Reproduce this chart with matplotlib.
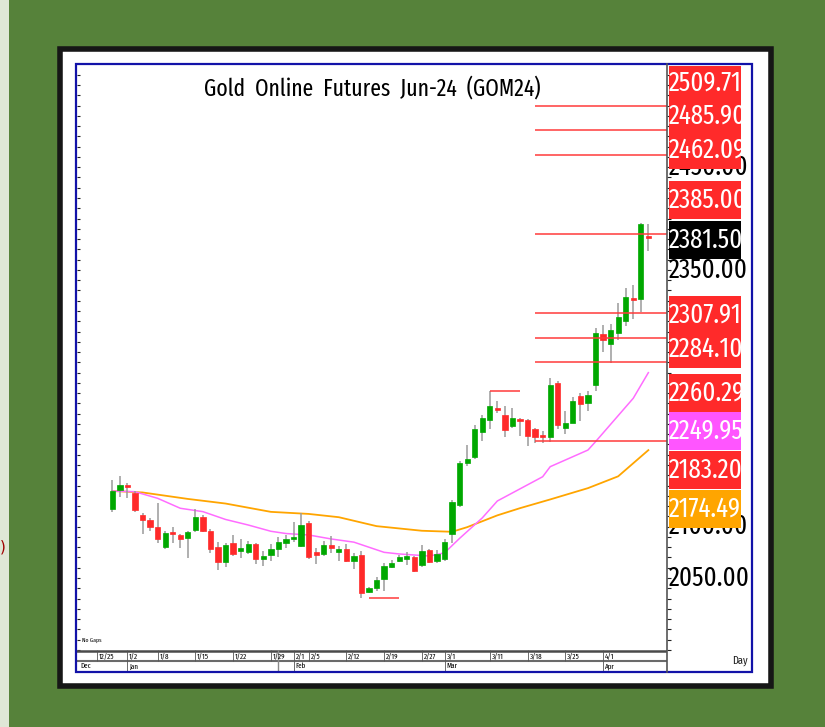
import matplotlib
matplotlib.use("Agg")
import matplotlib.pyplot as plt
import matplotlib.font_manager as fm
from matplotlib.font_manager import FontProperties
from matplotlib.textpath import TextPath
from matplotlib.patches import Rectangle
from matplotlib.lines import Line2D
from matplotlib.ticker import MultipleLocator

# daily candles, Dec 28 .. Apr 9 (index = trading day slot)
opens = [2116.9, 2135.7, 2140.6, 2133.1, 2111.3, 2106.5, 2099.4, 2079.9, 2094.5, 2092.2,
         2088.7, 2096.7, 2109.1, 2096.0, 2079.9, 2065.9, 2083.8, 2076.6, 2075.6, 2083.1,
         2068.5, 2072.7, 2077.9, 2083.8, 2087.7, 2081.5, 2103.2, 2075.6, 2073.4, 2082.1,
         2075.6, 2078.2, 2066.8, 2072.4, 2036.7, 2040.0, 2049.3, 2060.4, 2066.8, 2068.2,
         2070.7, 2062.7, 2077.3, 2066.6, 2068.2, 2092.8, 2121.1, 2161.7, 2167.5, 2191.9,
         2203.8, 2215.8, 2208.7, 2198.0, 2204.8, 2203.8, 2195.1, 2189.2, 2187.0, 2240.2,
         2196.3, 2201.2, 2227.2, 2220.1, 2237.9, 2287.3, 2277.8, 2288.9, 2300.5, 2322.4,
         2321.4, 2382.3]
highs = [2145.4, 2149.6, 2142.8, 2134.7, 2113.0, 2108.1, 2122.7, 2096.0, 2100.0, 2092.8,
         2096.0, 2116.9, 2111.3, 2097.7, 2085.3, 2083.8, 2091.9, 2088.0, 2086.0, 2083.8,
         2076.3, 2083.1, 2089.6, 2091.9, 2104.2, 2113.0, 2105.5, 2078.9, 2086.0, 2090.9,
         2081.2, 2083.1, 2074.1, 2076.6, 2041.5, 2051.3, 2064.3, 2067.5, 2072.4, 2075.6,
         2071.4, 2082.1, 2078.2, 2077.3, 2088.0, 2125.9, 2164.2, 2179.5, 2199.0, 2208.7,
         2232.4, 2222.6, 2217.8, 2215.2, 2205.5, 2204.8, 2195.8, 2193.4, 2244.5, 2241.8,
         2212.6, 2226.0, 2229.8, 2232.4, 2293.1, 2296.3, 2297.3, 2318.1, 2332.1, 2335.3,
         2395.4, 2394.7]
lows = [2114.0, 2129.2, 2127.6, 2114.6, 2092.8, 2095.8, 2083.8, 2078.0, 2083.8, 2078.9,
        2069.2, 2095.1, 2094.5, 2074.1, 2057.8, 2060.4, 2071.4, 2069.8, 2073.4, 2063.6,
        2061.7, 2066.8, 2070.7, 2078.9, 2085.3, 2079.9, 2068.2, 2063.6, 2071.4, 2074.6,
        2066.6, 2065.9, 2058.8, 2030.5, 2035.1, 2037.6, 2037.3, 2059.4, 2065.9, 2062.7,
        2056.1, 2060.4, 2064.9, 2064.9, 2066.6, 2083.8, 2118.8, 2159.1, 2165.6, 2183.7,
        2194.8, 2210.4, 2187.0, 2195.8, 2188.3, 2178.5, 2181.7, 2181.7, 2182.7, 2194.8,
        2190.2, 2200.6, 2203.2, 2212.9, 2232.4, 2270.4, 2259.1, 2281.7, 2295.4, 2301.9,
        2309.3, 2368.7]
closes = [2134.7, 2140.6, 2138.9, 2116.2, 2106.5, 2100.0, 2088.3, 2094.1, 2092.8, 2088.0,
          2094.5, 2109.1, 2095.8, 2078.0, 2065.9, 2081.8, 2073.4, 2079.2, 2083.1, 2068.5,
          2071.1, 2077.9, 2085.3, 2088.3, 2090.2, 2101.3, 2070.1, 2072.4, 2082.1, 2079.5,
          2078.2, 2066.6, 2071.4, 2035.1, 2040.0, 2048.0, 2061.7, 2064.9, 2070.1, 2071.4,
          2056.8, 2076.3, 2065.9, 2073.1, 2085.3, 2123.7, 2161.7, 2165.6, 2194.8, 2206.1,
          2217.8, 2213.6, 2194.1, 2206.1, 2203.2, 2188.3, 2187.6, 2187.0, 2237.9, 2199.0,
          2201.2, 2222.6, 2219.1, 2228.2, 2288.3, 2281.7, 2291.5, 2304.4, 2323.3, 2320.7,
          2394.7, 2381.5]
days = list(range(1, len(opens) + 1))

# moving averages
ma_fast_x = [1, 4, 7, 10, 13, 16, 19, 22, 24, 27, 30, 33, 37, 39, 43, 45, 47, 50, 52,
             58, 59, 64, 65, 70, 72]
ma_fast = [2134.7, 2134.0, 2127.6, 2117.9, 2114.6, 2107.0, 2101.6, 2095.5, 2093.3, 2091.9,
           2088.0, 2084.9, 2075.0, 2073.4, 2071.4, 2074.5, 2088.6, 2108.5, 2125.0,
           2148.6, 2158.4, 2174.6, 2182.7, 2225.0, 2249.95]
ma_slow_x = [1, 5, 11, 16, 22, 27, 31, 36, 42, 46, 48, 52, 55, 59, 64, 68, 72]
ma_slow = [2134.7, 2133.3, 2127.0, 2122.5, 2114.4, 2112.4, 2109.2, 2100.5, 2096.0, 2095.0,
           2099.5, 2111.0, 2118.0, 2126.5, 2137.5, 2149.0, 2174.49]

# horizontal levels (red lines)
levels = [2509.71, 2485.90, 2462.09, 2385.00, 2307.91, 2284.10, 2260.29, 2183.20]
level_start = 57
swing_levels = [2232.4, 2030.5]
swing_from = [51, 35]
swing_to = [55, 39]

# right-hand labels
tag_text = ["2509.71", "2485.90", "2462.09", "2385.00", "2381.50", "2307.91", "2284.10",
            "2260.29", "2249.95", "2183.20", "2174.49"]
tag_color = ["#ff2a2a", "#ff2a2a", "#ff2a2a", "#ff2a2a", "#000000", "#ff2a2a", "#ff2a2a",
             "#ff2a2a", "#ff55ff", "#ff2a2a", "#ffa500"]
tag_ypx = [83, 116, 150, 200, 240, 315, 349, 393, 431, 470, 509]
price_ticks = [2050, 2100, 2150, 2200, 2250, 2300, 2350, 2400, 2450, 2500]

week_pos = [-1, 3, 7, 12, 17, 22, 25, 27, 32, 37, 42, 45, 51, 56, 61, 66]
week_lbl = ["12/25", "1/2", "1/8", "1/15", "1/22", "1/29", "2/1", "2/5", "2/12", "2/19",
            "2/27", "3/1", "3/11", "3/18", "3/25", "4/1"]
month_pos = [-3.5, 3, 25, 45, 66]
month_lbl = ["Dec", "Jan", "Feb", "Mar", "Apr"]

W, H = 825, 727


def pick_narrow():
    # most condensed regular sans face that is installed
    best = None
    for f in fm.fontManager.ttflist:
        name = f.name.lower()
        if "mono" in name or "serif" in name or "cjk" in name:
            continue
        st = f.stretch
        if isinstance(st, str):
            st = fm.stretch_dict.get(st, 500)
        wt = f.weight
        if isinstance(wt, str):
            wt = fm.weight_dict.get(wt, 400)
        fn = f.fname.lower()
        if "extracondensed" in fn or "extra-condensed" in fn:
            st = min(st, 200)
        elif "narrow" in name or "condensed" in name or "condensed" in fn:
            st = min(st, 300)
        if st < 500 and f.style == "normal" and 350 <= wt <= 450:
            if best is None or st < best[0]:
                best = (st, f.fname)
    if best:
        return FontProperties(fname=best[1])
    return FontProperties(family=["Liberation Sans", "DejaVu Sans"])


NARROW = pick_narrow()


def fit_size(text, width_px, max_size):
    w10 = TextPath((0, 0), text, size=10, prop=NARROW).get_extents().width * 100 / 72
    return min(max_size, 10 * width_px / w10)


def fp(size):
    p = NARROW.copy()
    p.set_size(size)
    return p


def box(x0, y0, x1, y1):
    return [x0 / W, 1 - y1 / H, (x1 - x0) / W, (y1 - y0) / H]


def px2price(y):
    return 2050 + (578 - y) / 1.027


tag_size = fit_size("2509.71", 70, 23)
title = "Gold  Online  Futures  Jun-24  (GOM24)"
title_size = fit_size(title, 335, 24)

fig = plt.figure(figsize=(W / 100, H / 100), dpi=100)
fig.patch.set_facecolor("#56823a")

# light strip on the far left and the outer black frame (behind the axes)
fig.add_artist(Rectangle((0, 0), 9 / W, 1, transform=fig.transFigure,
                         facecolor="#dfe7d6", edgecolor="none", zorder=-2))
fig.add_artist(Rectangle((60 / W, 1 - 686 / H), 711 / W, 637 / H, transform=fig.transFigure,
                         facecolor="white", edgecolor="#161616", lw=4, zorder=-1))
fig.text(0, 1 - 547 / H, ")", color="#a00000", fontsize=11, va="center", ha="left")

ylo, yhi = px2price(650), px2price(66)
xlo, xhi = -3.68, 74.47

ax = fig.add_axes(box(77, 66, 667, 650))
ax.set_xlim(xlo, xhi)
ax.set_ylim(ylo, yhi)
for s in ax.spines.values():
    s.set_visible(False)
ax.set_xticks([])
ax.yaxis.set_major_locator(MultipleLocator(10))
ax.tick_params(axis="y", which="major", left=True, right=False, labelleft=False,
               direction="in", length=2, width=0.8, color="#222")

# moving averages
ax.plot(ma_slow_x, ma_slow, color="#ffa500", lw=1.3, zorder=2)
ax.plot(ma_fast_x, ma_fast, color="#ff6cff", lw=1.1, zorder=2)

# candles
up_col, dn_col = "#00a800", "#ff2a2a"
ax.vlines(days, lows, highs, color="#9a9a9a", lw=1.1, zorder=3)
body_lo = [min(o, c) for o, c in zip(opens, closes)]
body_h = [max(abs(c - o), 1.2) for o, c in zip(opens, closes)]
cols = [up_col if c >= o else dn_col for o, c in zip(opens, closes)]
ax.bar(days, body_h, bottom=body_lo, width=0.7, color=cols, edgecolor=cols, lw=0.5,
       zorder=4)

# level lines
ax.hlines(levels, level_start, xhi, color="#ff3b3b", lw=1.1, zorder=5)
ax.hlines(swing_levels, swing_from, swing_to, color="#ff3b3b", lw=1.1, zorder=5)

ax.text((372 - 77) / 590, 1 - (88 - 66) / 584, title, transform=ax.transAxes,
        ha="center", va="center", fontproperties=fp(title_size))
ax.text(0.008, 0.012, "No Gaps", transform=ax.transAxes, fontproperties=fp(4.5),
        va="bottom")

# price panel on the right
axr = fig.add_axes(box(667, 66, 752, 650))
axr.set_xlim(667, 752)
axr.set_ylim(ylo, yhi)
axr.patch.set_visible(False)
for s in axr.spines.values():
    s.set_visible(False)
axr.set_xticks([])
axr.yaxis.set_major_locator(MultipleLocator(10))
axr.tick_params(axis="y", which="major", left=True, labelleft=False, direction="in",
                length=3, width=0.8, color="#222")

half_px = 19
spans = [(y - half_px, y + half_px) for y in tag_ypx]


def covered(y0, y1):
    # True when the pixel range y0..y1 lies under the stacked tags
    y = y0
    while y <= y1:
        if not any(a - 3 <= y <= b + 3 for a, b in spans):
            return False
        y += 1
    return True


for p in price_ticks:
    ypx = 578 - (p - 2050) * 1.027
    if covered(ypx - 8, ypx + 8):
        continue
    axr.text(669, p, f"{p:.2f}", ha="left", va="center", fontproperties=fp(tag_size),
             color="black", zorder=2)
for txt, col, ypx in zip(tag_text, tag_color, tag_ypx):
    yc = px2price(ypx)
    half = half_px / 1.027
    axr.add_patch(Rectangle((668.5, yc - half), 72.5, 2 * half, facecolor=col,
                            edgecolor="none", zorder=3))
    axr.text(669, yc, txt, ha="left", va="center", fontproperties=fp(tag_size),
             color="white", zorder=4)

# date strip
axd = fig.add_axes(box(77, 650, 667, 671))
axd.set_xlim(xlo, xhi)
axd.set_ylim(21, 0)
axd.axis("off")
axd.axhline(0.6, color="#4a4a4a", lw=1.8)
axd.axhline(11, color="#6a6a6a", lw=1.5)
axd.vlines(week_pos, 0, 11, color="#555", lw=0.6)
axd.vlines(month_pos[1:], 11, 21, color="#555", lw=0.6)
axd.vlines([22.9], 0, 21, color="#888", lw=1.0)
for p, t in zip(week_pos, week_lbl):
    axd.text(p + 0.25, 6, t, fontproperties=fp(5.5), va="center", ha="left")
for p, t in zip(month_pos, month_lbl):
    axd.text(p + 0.25, 16.3, t, fontproperties=fp(5.5), va="center", ha="left")

fig.text(740 / W, 1 - 661 / H, "Day", fontproperties=fp(8), ha="center",
         va="center", color="#222")

# separator and blue border
fig.add_artist(Line2D([667 / W, 667 / W], [1 - 64 / H, 1 - 672 / H],
                      transform=fig.transFigure, color="#555", lw=1.2))
fig.add_artist(Rectangle((76 / W, 1 - 672 / H), 676 / W, 608 / H, transform=fig.transFigure,
                         facecolor="none", edgecolor="#1212a8", lw=1.6))

fig.savefig("out.png", dpi=100, facecolor=fig.get_facecolor())
